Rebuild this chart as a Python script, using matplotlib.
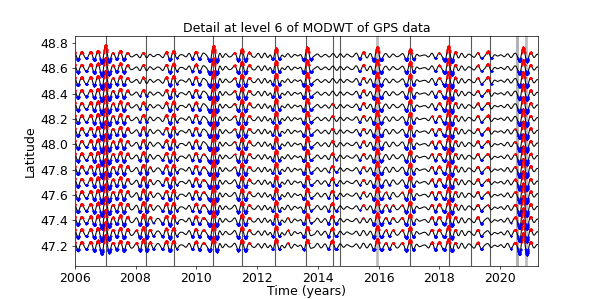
import numpy as np
import matplotlib
matplotlib.use('Agg')
import matplotlib.pyplot as plt

# station latitudes (one trace per station)
latitudes = [47.2, 47.3, 47.4, 47.5, 47.6, 47.7, 47.8, 47.9,
             48.0, 48.1, 48.2, 48.3, 48.4, 48.5, 48.6, 48.7]

# tremor episode times (vertical lines)
event_years = [2007.02, 2008.33, 2009.27, 2010.56, 2011.51, 2012.59,
               2013.60, 2014.51, 2014.73, 2017.03, 2018.30, 2019.03,
               2019.65]
gray_years = [2015.94, 2020.85]
gray_span = (2020.53, 2020.63)

# slow slip wavelet packets: centre, amplitude south / north
sse_centre = [2007.02, 2008.25, 2009.25, 2010.58, 2011.50, 2012.62,
              2013.65, 2014.45, 2015.95, 2017.05, 2018.30, 2019.60,
              2020.75]
sse_amp_south = [0.080, 0.030, 0.012, 0.060, 0.012, 0.065,
                 0.055, 0.045, 0.060, 0.030, 0.040, 0.030, 0.085]
sse_amp_north = [0.075, 0.015, 0.015, 0.070, 0.012, 0.070,
                 0.070, 0.012, 0.070, 0.040, 0.060, 0.045, 0.050]

# background detail amplitude, every half year from 2006.0
bg_years = [2006.0 + 0.5 * k for k in range(32)]
bg_south = [0.030, 0.030, 0.032, 0.030, 0.026, 0.026, 0.026, 0.026,
            0.026, 0.026, 0.024, 0.024, 0.024, 0.018, 0.016, 0.014,
            0.014, 0.018, 0.014, 0.014, 0.018, 0.022, 0.020, 0.022,
            0.022, 0.023, 0.023, 0.018, 0.014, 0.018, 0.020, 0.018]
bg_north = [0.028, 0.028, 0.028, 0.028, 0.011, 0.009, 0.018, 0.023,
            0.023, 0.023, 0.026, 0.026, 0.026, 0.018, 0.011, 0.011,
            0.009, 0.014, 0.018, 0.018, 0.014, 0.011, 0.014, 0.014,
            0.016, 0.023, 0.016, 0.018, 0.009, 0.014, 0.018, 0.018]

threshold = 0.021

t = np.arange(2006.0, 2021.30, 1.0 / 365.25)

plt.rcParams['font.size'] = 9
plt.rcParams['xtick.major.size'] = 2.0
plt.rcParams['ytick.major.size'] = 2.0
plt.rcParams['xtick.major.pad'] = 2.0
plt.rcParams['ytick.major.pad'] = 2.5
plt.rcParams['xtick.major.width'] = 0.5
plt.rcParams['ytick.major.width'] = 0.5
plt.rcParams['axes.linewidth'] = 0.5

fig, ax = plt.subplots(figsize=(5.98, 2.99), dpi=100)

for i, lat in enumerate(latitudes):
    f = i / (len(latitudes) - 1)
    env = (1 - f) * np.interp(t, bg_years, bg_south) + f * np.interp(t, bg_years, bg_north)
    d = env * (0.85 * np.cos(2 * np.pi * t / 0.25)
               + 0.35 * np.cos(2 * np.pi * t / 0.19 + 1.0)
               + 0.3 * np.cos(2 * np.pi * t / 0.31 + 2.0))
    for tc, a_s, a_n in zip(sse_centre, sse_amp_south, sse_amp_north):
        a = (1 - f) * a_s + f * a_n
        d = d + a * np.exp(-0.5 * ((t - tc) / 0.12) ** 2) * np.cos(2 * np.pi * (t - tc) / 0.26)
    ax.plot(t, lat + d, color='k', lw=0.75, zorder=3)
    up = d > threshold
    dn = d < -threshold
    ax.plot(t[up], lat + d[up], '.', color='red', ms=2.6, mew=0, zorder=4)
    ax.plot(t[dn], lat + d[dn], '.', color='blue', ms=2.6, mew=0, zorder=4)

for x in event_years:
    ax.axvline(x, color='0.35', lw=0.8, zorder=2)
for x in gray_years:
    ax.axvline(x, color='0.75', lw=2.0, zorder=2)
ax.axvspan(gray_span[0], gray_span[1], color='0.7', lw=0, zorder=2)

ax.set_xlim(2006.0, 2021.25)
ax.set_ylim(47.04, 48.855)
ax.set_xticks([2006, 2008, 2010, 2012, 2014, 2016, 2018, 2020])
ax.set_yticks([47.2, 47.4, 47.6, 47.8, 48.0, 48.2, 48.4, 48.6, 48.8])
ax.tick_params(labelsize=9)
ax.set_xlabel('Time (years)', fontsize=9, labelpad=0.5)
ax.set_ylabel('Latitude', fontsize=9, labelpad=3)
ax.set_title('Detail at level 6 of MODWT of GPS data', fontsize=9, pad=3)

fig.savefig('out.png', dpi=100)
